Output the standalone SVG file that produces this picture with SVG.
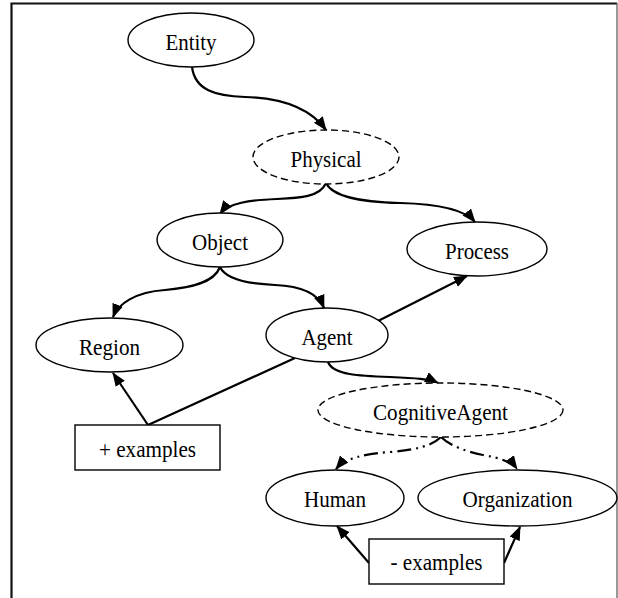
<svg xmlns="http://www.w3.org/2000/svg" width="618" height="598" viewBox="0 0 618 598">
<style>
  .node ellipse, .node rect { fill: #fff; stroke: #000; stroke-width: 1.4; }
  .node .dashed { stroke-dasharray: 7 4; }
  .node text { font-family: "Liberation Serif", "Times New Roman", serif; font-size: 24px; text-anchor: middle; fill: #000; }
  .edge { fill: none; stroke: #000; stroke-width: 2.2; }
  .arrow { marker-end: url(#ah); }
  .dashdot { stroke-dasharray: 14 5 2 5 2 5; }
</style>
<defs>
  <marker id="ah" markerUnits="userSpaceOnUse" markerWidth="15" markerHeight="12" refX="13" refY="5.5" orient="auto">
    <path d="M0,0 L14,5.5 L0,11 z" fill="#000"/>
  </marker>
</defs>
<rect x="0" y="0" width="618" height="598" fill="#fff"/>
<g id="frame">
  <path d="M11.5,598 V3.5 H617" fill="none" stroke="#111" stroke-width="2.2"/>
  <line x1="617" y1="3" x2="617" y2="598" stroke="#555" stroke-width="1.2"/>
</g>
<g id="connectors">
  <path class="edge arrow" d="M192,67 C195,90 215,96 245,97 C280,98 310,108 326,130"/>
  <path class="edge arrow" d="M326,183 C320,197 300,198 277,199 C250,200 228,203 220,214"/>
  <path class="edge arrow" d="M326,183 C333,197 360,202 400,203 C440,204 466,211 475,222"/>
  <path class="edge arrow" d="M220,267 C214,283 190,288 165,290 C135,292 118,304 113,317"/>
  <path class="edge arrow" d="M220,267 C226,280 250,284 275,285 C300,286 318,293 324,308"/>
  <path class="edge arrow" d="M378,321 L467,276"/>
  <path class="edge arrow" d="M328,362 C333,375 360,376 390,377 C415,378 430,379 438,383"/>
  <path class="edge arrow dashdot" d="M441,437 C432,446 415,450 390,452 C365,454 345,458 336,469"/>
  <path class="edge arrow dashdot" d="M441,437 C450,446 468,452 483,455 C500,458 512,462 517,469"/>
  <path class="edge arrow" d="M148,425 L113,373"/>
  <path class="edge" d="M148,425 L295,358"/>
  <path class="edge arrow" d="M369,563 L337,526"/>
  <path class="edge arrow" d="M504,563 L520,527"/>
</g>
<g id="Entity" class="node">
  <ellipse cx="191" cy="40" rx="63" ry="27"/>
  <text x="191" y="49.5" textLength="51" lengthAdjust="spacingAndGlyphs">Entity</text>
</g>
<g id="Physical" class="node">
  <ellipse class="dashed" cx="326" cy="157" rx="73" ry="27"/>
  <text x="326" y="166.5" textLength="71" lengthAdjust="spacingAndGlyphs">Physical</text>
</g>
<g id="Object" class="node">
  <ellipse cx="220" cy="240" rx="63" ry="27"/>
  <text x="220" y="249.5" textLength="56" lengthAdjust="spacingAndGlyphs">Object</text>
</g>
<g id="Process" class="node">
  <ellipse cx="477" cy="249" rx="70" ry="27"/>
  <text x="477" y="258.5" textLength="64" lengthAdjust="spacingAndGlyphs">Process</text>
</g>
<g id="Region" class="node">
  <ellipse cx="109.5" cy="345" rx="73.5" ry="27"/>
  <text x="109.5" y="354.5" textLength="61" lengthAdjust="spacingAndGlyphs">Region</text>
</g>
<g id="Agent" class="node">
  <ellipse cx="327" cy="335" rx="61" ry="27"/>
  <text x="327" y="344.5" textLength="51" lengthAdjust="spacingAndGlyphs">Agent</text>
</g>
<g id="CognitiveAgent" class="node">
  <ellipse class="dashed" cx="440.5" cy="410" rx="122.5" ry="27"/>
  <text x="440.5" y="419.5" textLength="135" lengthAdjust="spacingAndGlyphs">CognitiveAgent</text>
</g>
<g id="Human" class="node">
  <ellipse cx="335" cy="498" rx="69" ry="28"/>
  <text x="335" y="507" textLength="62" lengthAdjust="spacingAndGlyphs">Human</text>
</g>
<g id="Organization" class="node">
  <ellipse cx="517.5" cy="498" rx="99.5" ry="28"/>
  <text x="517.5" y="507" textLength="110" lengthAdjust="spacingAndGlyphs">Organization</text>
</g>
<g id="plus_examples" class="node">
  <rect x="75" y="425" width="145" height="45"/>
  <text x="147.5" y="457" textLength="97" lengthAdjust="spacingAndGlyphs">+ examples</text>
</g>
<g id="minus_examples" class="node">
  <rect x="369" y="539" width="135" height="45"/>
  <text x="436.5" y="570" textLength="92" lengthAdjust="spacingAndGlyphs">- examples</text>
</g>
</svg>
